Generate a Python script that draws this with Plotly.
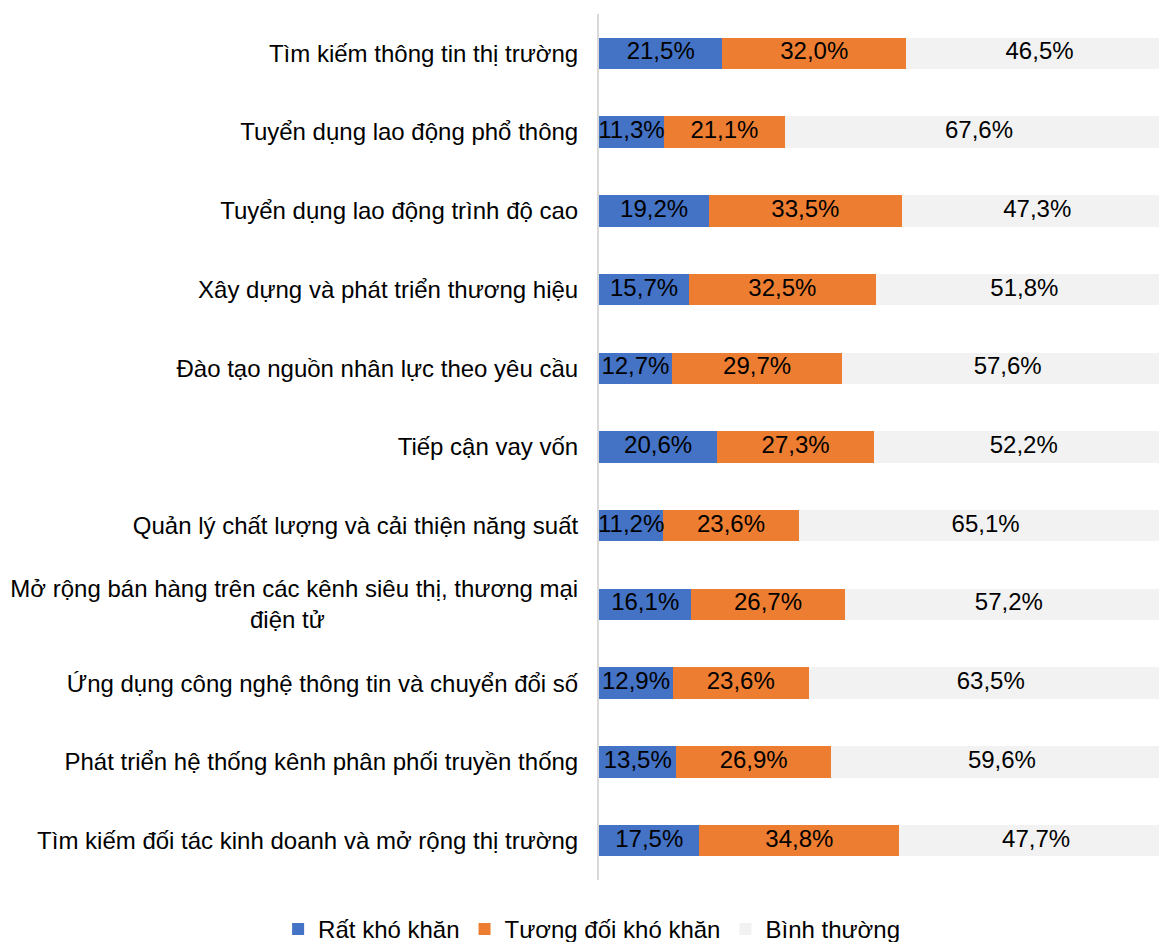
import plotly.graph_objects as go

categories = [
    "Tìm kiếm thông tin thị trường",
    "Tuyển dụng lao động phổ thông",
    "Tuyển dụng lao động trình độ cao",
    "Xây dựng và phát triển thương hiệu",
    "Đào tạo nguồn nhân lực theo yêu cầu",
    "Tiếp cận vay vốn",
    "Quản lý chất lượng và cải thiện năng suất",
    "Mở rộng bán hàng trên các kênh siêu thị, thương mại<br>điện tử" + "\u00a0" * 38,
    "Ứng dụng công nghệ thông tin và chuyển đổi số",
    "Phát triển hệ thống kênh phân phối truyền thống",
    "Tìm kiếm đối tác kinh doanh và mở rộng thị trường",
]
very_hard = [21.5, 11.3, 19.2, 15.7, 12.7, 20.6, 11.2, 16.1, 12.9, 13.5, 17.5]
fairly_hard = [32.0, 21.1, 33.5, 32.5, 29.7, 27.3, 23.6, 26.7, 23.6, 26.9, 34.8]
normal = [46.5, 67.6, 47.3, 51.8, 57.6, 52.2, 65.1, 57.2, 63.5, 59.6, 47.7]

series_names = ["Rất khó khăn", "Tương đối khó khăn", "Bình thường"]
series_values = [very_hard, fairly_hard, normal]
colors = ["#4472C4", "#ED7D31", "#F2F2F2"]

FONT = "Liberation Sans, Arial, sans-serif"
FS = 24

fig = go.Figure()
for name, vals, col in zip(series_names, series_values, colors):
    fig.add_trace(go.Bar(
        y=categories, x=vals, name=name, orientation="h",
        marker=dict(color=col, line=dict(width=0)),
        hoverinfo="x+name",
    ))

# data labels centred on each segment
lx, ly, lt = [], [], []
for i, cat in enumerate(categories):
    start = 0.0
    for vals in series_values:
        v = vals[i]
        lx.append(start + v / 2)
        ly.append(cat)
        lt.append(f"{v:.1f}%".replace(".", ","))
        start += v
fig.add_trace(go.Scatter(
    x=lx, y=ly, text=lt, mode="text", showlegend=False,
    textfont=dict(family=FONT, size=FS, color="#000000"),
    hoverinfo="skip", cliponaxis=False,
))

n = len(categories)
fig.update_layout(
    width=1159, height=942,
    barmode="stack", bargap=0.6,
    paper_bgcolor="white", plot_bgcolor="white",
    margin=dict(l=599, r=0, t=14, b=62, autoexpand=False),
    font=dict(family=FONT, size=FS, color="#000000"),
    xaxis=dict(range=[0, 97.56], showgrid=False, showticklabels=False,
               zeroline=False, showline=False, fixedrange=True),
    yaxis=dict(range=[n - 0.5, -0.5], showline=True, linecolor="#D9D9D9",
               linewidth=2, ticks="", ticklabelstandoff=14, automargin=False,
               showgrid=False, zeroline=False,
               tickfont=dict(family=FONT, size=FS, color="#000000")),
    legend=dict(orientation="h", xref="paper", yref="paper",
                x=-0.573, xanchor="left", y=-0.057, yanchor="middle",
                font=dict(family=FONT, size=FS, color="#000000"),
                itemwidth=30, traceorder="normal"),
    showlegend=True,
)

fig.write_html("out.html", config={"displayModeBar": False},
               post_script="document.body.style.margin='0';document.body.style.overflow='hidden';")
